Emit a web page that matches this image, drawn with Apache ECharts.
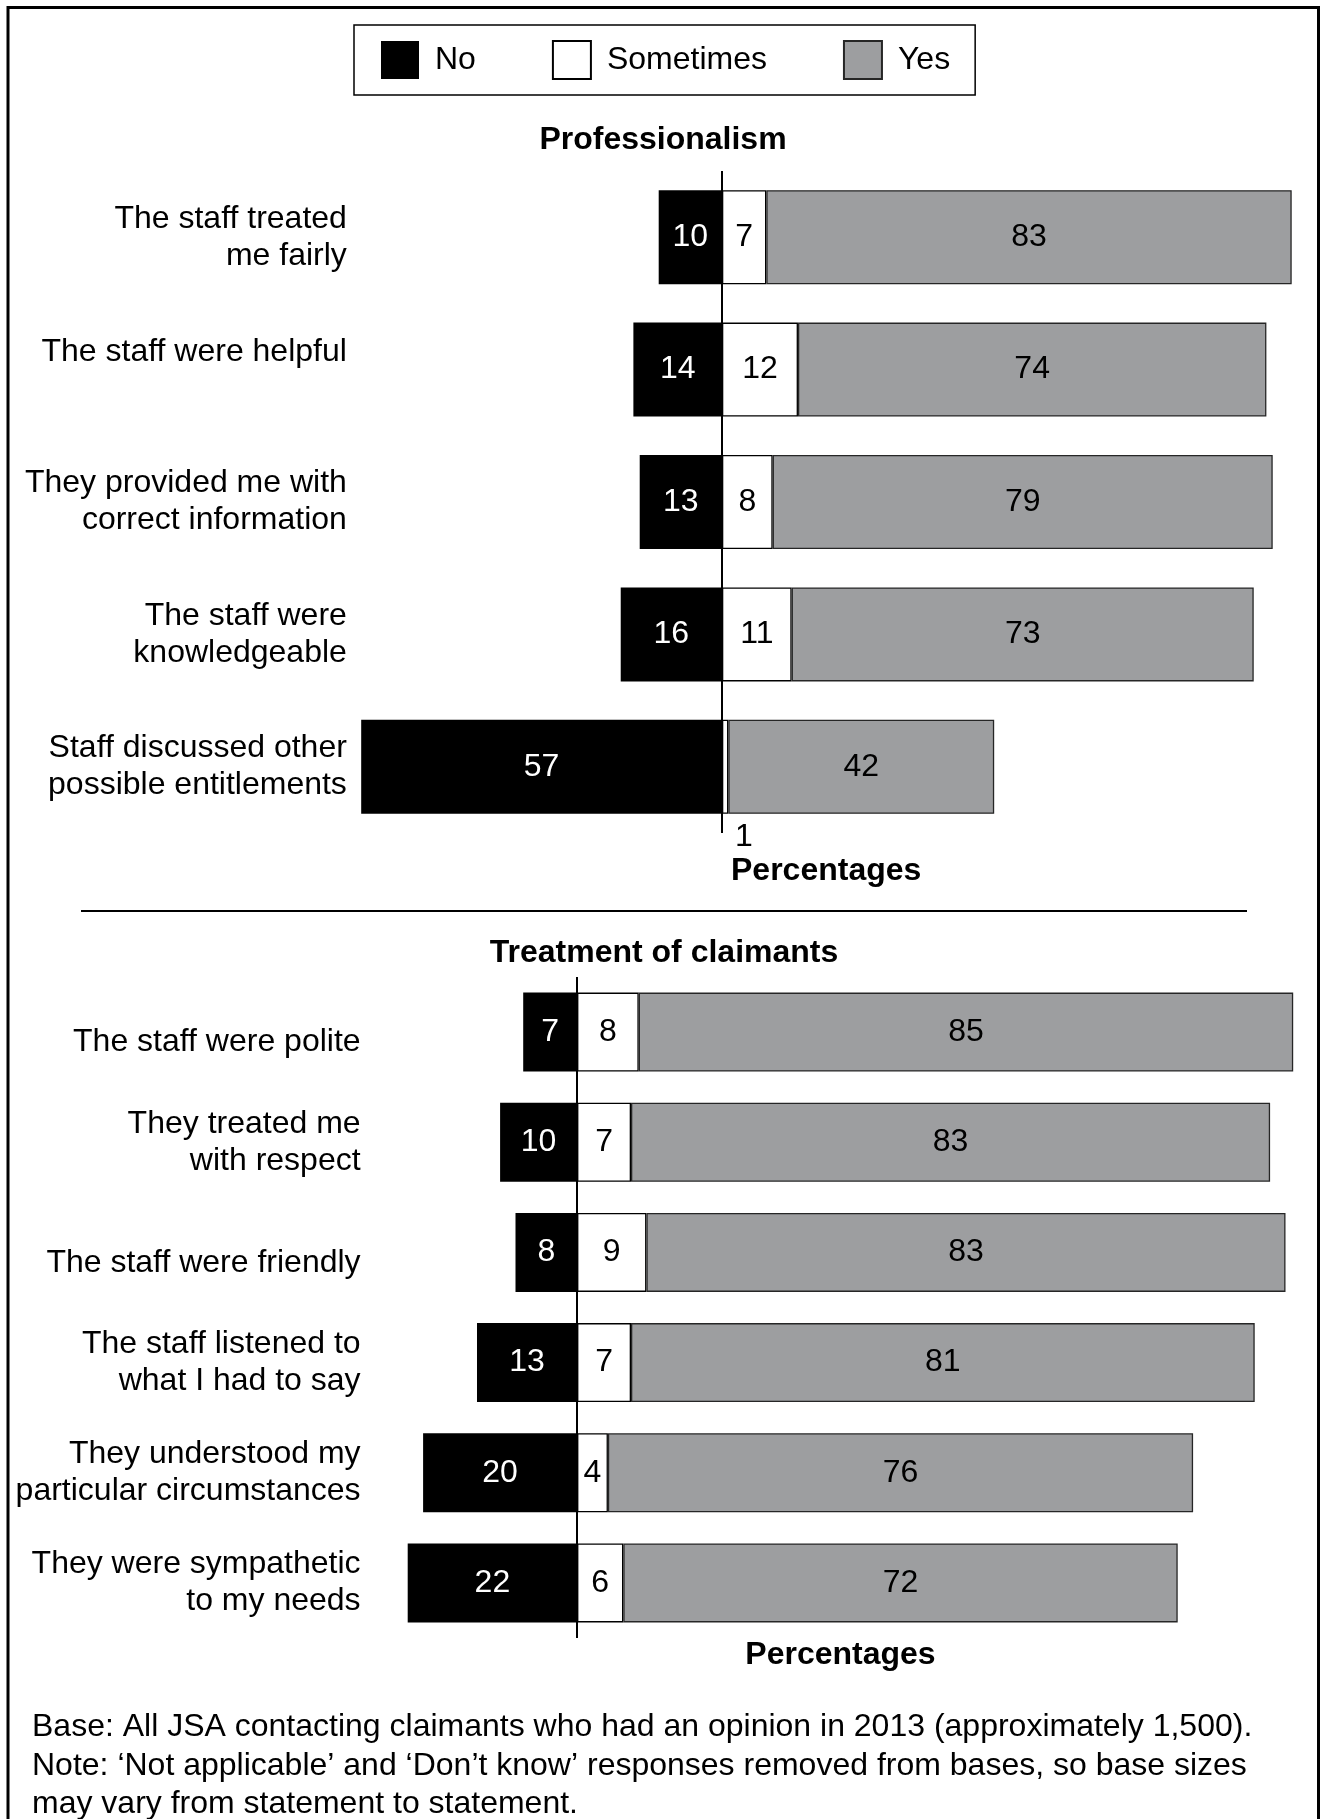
<!DOCTYPE html>
<html>
<head>
<meta charset="utf-8">
<title>Professionalism and treatment of claimants</title>
<script src="https://cdn.jsdelivr.net/npm/echarts@6/dist/echarts.min.js"></script>
<style>
  html, body { margin: 0; padding: 0; background: #fff; }
  #chart { width: 1321px; height: 1819px; }
</style>
</head>
<body>
<div id="chart"></div>
<script>
// Survey responses, percentages per statement
const profCategories = [
  'The staff treated\nme fairly',
  'The staff were helpful',
  'They provided me with\ncorrect information',
  'The staff were\nknowledgeable',
  'Staff discussed other\npossible entitlements'
];
const profNo = [10, 14, 13, 16, 57];
const profSometimes = [7, 12, 8, 11, 1];
const profYes = [83, 74, 79, 73, 42];

const treatCategories = [
  'The staff were polite',
  'They treated me\nwith respect',
  'The staff were friendly',
  'The staff listened to\nwhat I had to say',
  'They understood my\nparticular circumstances',
  'They were sympathetic\nto my needs'
];
const treatNo = [7, 10, 8, 13, 20, 22];
const treatSometimes = [8, 7, 9, 7, 4, 6];
const treatYes = [85, 83, 83, 81, 76, 72];

const legendNames = ['No', 'Sometimes', 'Yes'];
const panelTitles = ['Professionalism', 'Treatment of claimants'];
const axisTitle = 'Percentages';
const footnoteLines = [
  'Base: All JSA contacting claimants who had an opinion in 2013 (approximately 1,500).',
  'Note: \u2018Not applicable\u2019 and \u2018Don\u2019t know\u2019 responses removed from bases, so base sizes',
  'may vary from statement to statement.'
];

const FONT = '"Liberation Sans", Arial, Helvetica, sans-serif';
const FS = 32;

const segStyles = [
  { color: '#000000', borderColor: '#000000', borderWidth: 0, text: '#ffffff' },
  { color: '#ffffff', borderColor: '#000000', borderWidth: 1.3, text: '#000000' },
  { color: '#9d9ea0', borderColor: '#262626', borderWidth: 1.3, text: '#000000' }
];

function buildSeries(panel, no, sometimes, yes, barWidth) {
  const values = [no.map(v => -v), sometimes.slice(), yes.slice()];
  return values.map((vals, k) => {
    const st = segStyles[k];
    const s = {
      name: legendNames[k],
      type: 'bar',
      xAxisIndex: panel,
      yAxisIndex: panel,
      stack: 'panel' + panel,
      barWidth: barWidth,
      data: vals,
      itemStyle: { color: st.color, borderColor: st.borderColor, borderWidth: st.borderWidth },
      label: {
        show: true,
        position: 'inside',
        color: st.text,
        fontFamily: FONT,
        fontSize: FS,
        formatter: p => String(Math.abs(p.value))
      },
      emphasis: { disabled: true }
    };
    if (k === 0) {
      // zero line of the diverging scale
      s.markLine = {
        silent: true,
        symbol: 'none',
        label: { show: false },
        lineStyle: { color: '#000', width: 2, type: 'solid' },
        data: [{ xAxis: 0 }]
      };
    }
    return s;
  });
}

const series = buildSeries(0, profNo, profSometimes, profYes, 94)
  .concat(buildSeries(1, treatNo, treatSometimes, treatYes, 79));

// the tiny "Sometimes" share for the last professionalism row sits below its bar
series[1].data = series[1].data.map(v => {
  if (v >= 3) return v;
  return {
    value: v,
    label: { position: [13, 101], align: 'left', verticalAlign: 'top' }
  };
});

const chart = echarts.init(document.getElementById('chart'), null, { renderer: 'canvas' });

// single-line statements sit a little off-centre: raised in the upper panel, lowered in the lower one
const catAxis = (idx, cats, margin, singleLinePad) => ({
  type: 'category',
  gridIndex: idx,
  data: cats,
  inverse: true,
  axisLine: { show: false },
  axisTick: { show: false },
  axisLabel: {
    margin: margin,
    align: 'right',
    color: '#000',
    fontFamily: FONT,
    fontSize: FS,
    lineHeight: 37,
    formatter: v => v.indexOf('\n') >= 0 ? v : '{one|' + v + '}',
    rich: {
      one: {
        color: '#000',
        fontFamily: FONT,
        fontSize: FS,
        lineHeight: 37,
        padding: singleLinePad
      }
    }
  }
});

const valAxis = (idx, min, max) => ({
  type: 'value',
  gridIndex: idx,
  min: min,
  max: max,
  axisLine: { show: false },
  axisTick: { show: false },
  axisLabel: { show: false },
  splitLine: { show: false }
});

const text = (str, x, y, opts) => ({
  type: 'text',
  x: x,
  y: y,
  silent: true,
  style: Object.assign({
    text: str,
    fill: '#000',
    font: FS + 'px ' + FONT,
    align: 'left',
    verticalAlign: 'middle',
    textAlign: 'left',
    textVerticalAlign: 'middle'
  }, opts || {})
});

const bold = 'bold ' + FS + 'px ' + FONT;

chart.setOption({
  animation: false,
  backgroundColor: '#ffffff',
  textStyle: { fontFamily: FONT },
  legend: {
    data: legendNames,
    left: 354,
    top: 25,
    orient: 'horizontal',
    padding: [15, 25, 15, 27],
    itemWidth: 38,
    itemHeight: 38,
    itemGap: 76,
    icon: 'rect',
    borderColor: '#000',
    borderWidth: 1.5,
    selectedMode: false,
    textStyle: { color: '#000', fontFamily: FONT, fontSize: FS, padding: [0, 0, 0, 11] }
  },
  grid: [
    { left: 354.86, top: 171, width: 936.84, height: 662, containLabel: false },
    { left: 384.6, top: 977, width: 924, height: 661, containLabel: false }
  ],
  xAxis: [valAxis(0, -58, 90), valAxis(1, -25, 95)],
  yAxis: [
    catAxis(0, profCategories, 8, [0, 0, 35, 0]),
    catAxis(1, treatCategories, 24, [21, 0, 0, 0])
  ],
  series: series,
  graphic: [
    // outer frame
    { type: 'rect', silent: true, shape: { x: 8, y: 7.5, width: 1310.5, height: 1900 },
      style: { fill: 'none', stroke: '#000', lineWidth: 3 } },
    // divider between the two panels
    { type: 'line', silent: true, shape: { x1: 81, y1: 911, x2: 1247, y2: 911 },
      style: { stroke: '#000', lineWidth: 2 } },
    text(panelTitles[0], 663, 140.5, { font: bold, align: 'center', textAlign: 'center' }),
    text(axisTitle, 731, 871, { font: bold }),
    text(panelTitles[1], 664, 953.5, { font: bold, align: 'center', textAlign: 'center' }),
    text(axisTitle, 840.5, 1655.5, { font: bold, align: 'center', textAlign: 'center' }),
    text(footnoteLines[0], 32, 1727),
    text(footnoteLines[1], 32, 1766),
    text(footnoteLines[2], 32, 1804)
  ]
});
</script>
</body>
</html>
